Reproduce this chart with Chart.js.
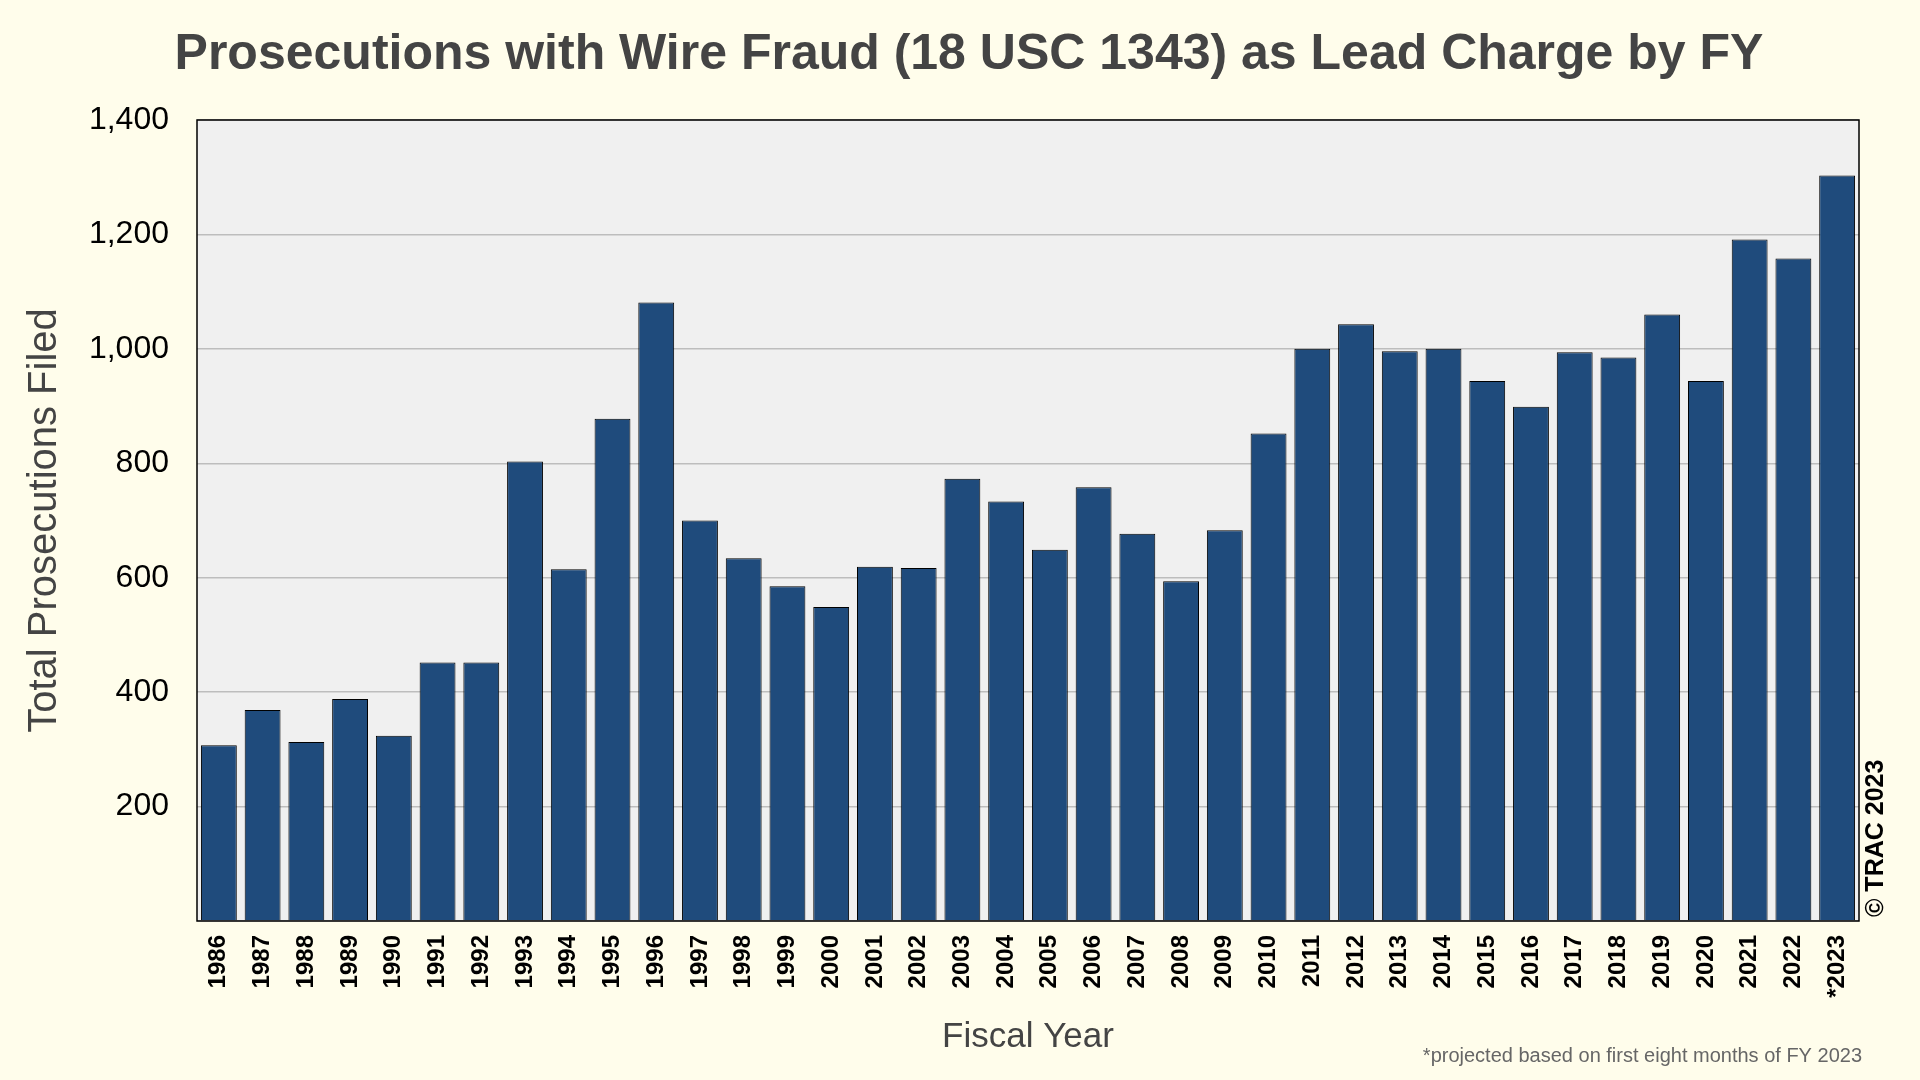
<!DOCTYPE html>
<html>
<head>
<meta charset="utf-8">
<script src="https://cdn.jsdelivr.net/npm/chart.js@4.4.0/dist/chart.umd.min.js"></script>
<style>
  html, body { margin: 0; padding: 0; background: #fffdeb; }
  #wrap { width: 1920px; height: 1080px; }
</style>
</head>
<body>
<div id="wrap"><canvas id="fraud" width="1920" height="1080"></canvas></div>
<script>
var years = ["1986", "1987", "1988", "1989", "1990", "1991", "1992", "1993", "1994", "1995",
  "1996", "1997", "1998", "1999", "2000", "2001", "2002", "2003", "2004", "2005",
  "2006", "2007", "2008", "2009", "2010", "2011", "2012", "2013", "2014", "2015",
  "2016", "2017", "2018", "2019", "2020", "2021", "2022", "*2023"];
var prosecutions = [307, 369, 313, 388, 324, 452, 452, 803, 615, 878,
  1081, 700, 634, 585, 549, 619, 617, 773, 733, 649,
  758, 677, 594, 683, 852, 1000, 1043, 996, 1000, 944,
  899, 994, 985, 1060, 944, 1191, 1158, 1303];
var yTicks = [0, 200, 400, 600, 800, 1000, 1200, 1400];

var titleText = "Prosecutions with Wire Fraud (18 USC 1343) as Lead Charge by FY";
var footnote = "*projected based on first eight months of FY 2023";
var copyright = "\u00A9 TRAC 2023";

var FONT = "'Liberation Sans', Arial, Helvetica, sans-serif";

// plot background, frame, title and the loose texts around the chart
var decor = {
  id: "decor",
  beforeDraw: function(chart) {
    var ctx = chart.ctx;
    var a = chart.chartArea;
    ctx.save();
    ctx.fillStyle = "#fffdeb";
    ctx.fillRect(0, 0, chart.width, chart.height);
    ctx.fillStyle = "#f0f0f0";
    ctx.fillRect(a.left, a.top, a.right - a.left, a.bottom - a.top);
    ctx.restore();
  },
  afterDraw: function(chart) {
    var ctx = chart.ctx;
    var a = chart.chartArea;
    ctx.save();
    ctx.strokeStyle = "#000";
    ctx.lineWidth = 1.5;
    ctx.strokeRect(a.left, a.top, a.right - a.left, a.bottom - a.top);
    ctx.restore();

    // title, centred a little right of the canvas middle like the original
    ctx.save();
    ctx.fillStyle = "#444";
    ctx.font = "bold 50px " + FONT;
    ctx.textAlign = "center";
    ctx.textBaseline = "middle";
    ctx.fillText(titleText, 969, 55);
    ctx.restore();

    ctx.save();
    ctx.fillStyle = "#000";
    ctx.font = "bold 25px " + FONT;
    ctx.translate(a.right + 17, a.bottom - 4);
    ctx.rotate(-Math.PI / 2);
    ctx.textAlign = "left";
    ctx.textBaseline = "middle";
    ctx.fillText(copyright, 0, 0);
    ctx.restore();

    ctx.save();
    ctx.fillStyle = "#666";
    ctx.font = "20px " + FONT;
    ctx.textAlign = "right";
    ctx.textBaseline = "middle";
    ctx.fillText(footnote, a.right + 3, 1056);
    ctx.restore();
  }
};

new Chart("fraud", {
  type: "bar",
  data: {
    labels: years,
    datasets: [{
      data: prosecutions,
      backgroundColor: "#1f4b7c",
      borderColor: "#000",
      borderWidth: 1,
      barPercentage: 0.82,
      categoryPercentage: 1.0
    }]
  },
  plugins: [decor],
  options: {
    responsive: false,
    animation: false,
    layout: { padding: { left: 0, right: 61, top: 120, bottom: 0 } },
    plugins: {
      legend: { display: false },
      tooltip: { enabled: false },
      title: { display: false }
    },
    scales: {
      x: {
        grid: { display: false, drawTicks: false },
        border: { display: false },
        ticks: {
          autoSkip: false,
          minRotation: 90,
          maxRotation: 90,
          padding: 14,
          color: "#000",
          font: { family: FONT, size: 24, weight: "bold" }
        },
        title: {
          display: true,
          text: "Fiscal Year",
          color: "#444",
          font: { family: FONT, size: 35 },
          padding: { top: 0, bottom: 22 }
        },
        afterFit: function(scale) { scale.height = 159; }
      },
      y: {
        min: yTicks[0],
        max: yTicks[yTicks.length - 1],
        grid: { color: "#bdbdbd", lineWidth: 1.5, drawTicks: false },
        border: { display: false },
        ticks: {
          stepSize: 200,
          padding: 28,
          color: "#000",
          font: { family: FONT, size: 32 },
          callback: function(value) {
            if (value === 0) return "";
            return value.toLocaleString("en-US");
          }
        },
        title: {
          display: true,
          text: "Total Prosecutions Filed",
          color: "#444",
          font: { family: FONT, size: 40 },
          padding: { top: 21, bottom: 0 }
        },
        afterFit: function(scale) { scale.width = 197; }
      }
    }
  }
});
</script>
</body>
</html>
